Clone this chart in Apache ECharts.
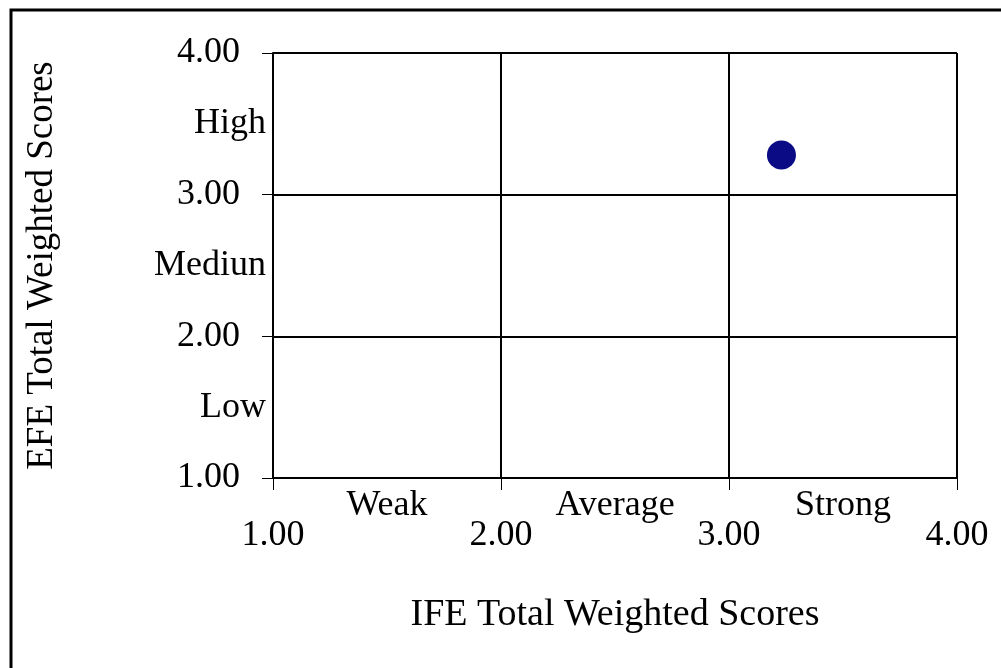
<!DOCTYPE html>
<html>
<head>
<meta charset="utf-8">
<script src="https://cdn.jsdelivr.net/npm/echarts@6/dist/echarts.min.js"></script>
<style>html,body{margin:0;padding:0;background:#fff}#c{width:1001px;height:668px}</style>
</head>
<body>
<div id="c"></div>
<script>
// Data
var xTitle = 'IFE Total Weighted Scores';
var yTitle = 'EFE Total Weighted Scores';
var xZoneLabels = {1.5: 'Weak', 2.5: 'Average', 3.5: 'Strong'};
var yZoneLabels = {1.5: 'Low', 2.5: 'Mediun', 3.5: 'High'};
var pointIFE = [3.23];
var pointEFE = [3.28];

var FONT = "'Liberation Serif','Times New Roman',serif";
var chart = echarts.init(document.getElementById('c'));
var pts = pointIFE.map(function (v, i) { return [v, pointEFE[i]]; });

function zoneFmt(map) {
  return function (v) {
    var k = Math.round(v * 10) / 10;
    return map[k] !== undefined ? map[k] : '';
  };
}

chart.setOption({
  animation: false,
  backgroundColor: '#fff',
  graphic: [{
    type: 'rect',
    shape: {x: 11, y: 10, width: 1200, height: 1000},
    style: {fill: 'none', stroke: '#000', lineWidth: 3},
    silent: true
  }],
  grid: {left: 273, right: 44, top: 53, bottom: 190},
  xAxis: [{
    type: 'value', position: 'bottom', min: 1, max: 4, interval: 1,
    name: xTitle, nameLocation: 'middle', nameGap: 118,
    nameTextStyle: {fontFamily: FONT, fontSize: 38, color: '#000'},
    axisLine: {show: true, lineStyle: {color: '#000', width: 2}},
    axisTick: {show: true, length: 12, lineStyle: {color: '#000', width: 1}},
    axisLabel: {fontFamily: FONT, fontSize: 36, color: '#000', margin: 40,
      formatter: function (v) { return v.toFixed(2); }},
    splitLine: {show: true, lineStyle: {color: '#000', width: 2}}
  }, {
    type: 'value', position: 'bottom', offset: 0, min: 1, max: 4, interval: 0.5,
    axisLine: {show: false}, axisTick: {show: false}, splitLine: {show: false},
    axisLabel: {fontFamily: FONT, fontSize: 36, color: '#000', margin: 10,
      formatter: zoneFmt(xZoneLabels)}
  }],
  yAxis: [{
    type: 'value', position: 'left', min: 1, max: 4, interval: 1,
    name: yTitle, nameLocation: 'middle', nameGap: 212, nameRotate: 90,
    nameTextStyle: {fontFamily: FONT, fontSize: 37, color: '#000'},
    axisLine: {show: true, lineStyle: {color: '#000', width: 2}},
    axisTick: {show: true, length: 11, lineStyle: {color: '#000', width: 1}},
    axisLabel: {fontFamily: FONT, fontSize: 36, color: '#000', margin: 33,
      formatter: function (v) { return v.toFixed(2); }},
    splitLine: {show: true, lineStyle: {color: '#000', width: 2}}
  }, {
    type: 'value', position: 'left', offset: 0, min: 1, max: 4, interval: 0.5,
    axisLine: {show: false}, axisTick: {show: false}, splitLine: {show: false},
    axisLabel: {fontFamily: FONT, fontSize: 36, color: '#000', margin: 7,
      formatter: zoneFmt(yZoneLabels)}
  }],
  series: [{
    type: 'scatter', xAxisIndex: 0, yAxisIndex: 0,
    data: pts, symbol: 'circle', symbolSize: 29,
    itemStyle: {color: '#0b0b86', opacity: 1}
  }]
});
</script>
</body>
</html>
